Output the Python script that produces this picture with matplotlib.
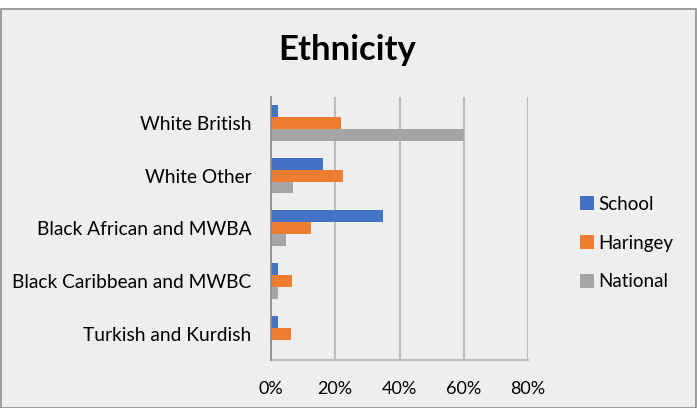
import matplotlib
matplotlib.use("Agg")
import matplotlib.pyplot as plt
import matplotlib.patches as patches
import numpy as np

plt.rcParams['font.family'] = ['Lato', 'DejaVu Sans']

# data (percent)
categories = ['White British', 'White Other', 'Black African and MWBA',
              'Black Caribbean and MWBC', 'Turkish and Kurdish']
series_names = ['School', 'Haringey', 'National']
school = [2.3, 16.3, 34.9, 2.3, 2.3]
haringey = [21.7, 22.4, 12.4, 6.6, 6.2]
national = [60.2, 7.0, 4.7, 2.3, 0.4]
x_ticks = [0, 20, 40, 60, 80]
x_tick_labels = ['0%', '20%', '40%', '60%', '80%']

colors = ['#4472C4', '#ED7D31', '#A5A5A5']
bg = '#EEEEEE'

fig = plt.figure(figsize=(6.97, 4.08), dpi=100, facecolor='white')
# chart area box with grey border
box = patches.Rectangle((0.5 / 697, 0.5 / 408), 695.5 / 697, 399 / 408,
                        transform=fig.transFigure, facecolor=bg,
                        edgecolor='#8C8C8C', linewidth=1.2, zorder=-10)
fig.add_artist(box)

ax = fig.add_axes([271 / 697, 48 / 408, 257 / 697, 263.5 / 408])
ax.patch.set_alpha(0)

y = np.arange(len(categories))
h = 0.227
for k, vals in enumerate([school, haringey, national]):
    ax.barh(y + (k - 1) * h, vals, height=h, color=colors[k],
            label=series_names[k], zorder=3)

ax.set_xlim(0, 80)
ax.set_ylim(len(categories) - 0.5, -0.5)
ax.set_xticks(x_ticks)
ax.set_xticklabels(x_tick_labels)
ax.set_yticks(y)
ax.set_yticklabels(categories)
ax.tick_params(axis='both', length=0, colors='#000000')
ax.tick_params(axis='x', pad=15, labelsize=13)
ax.tick_params(axis='y', pad=14, labelsize=13.8)

ax.grid(axis='x', color='#BDBDBD', linewidth=1.5, zorder=1)
for s in ['top', 'right']:
    ax.spines[s].set_visible(False)
ax.spines['left'].set_color('#8C8C8C')
ax.spines['left'].set_linewidth(1.2)
ax.spines['left'].set_zorder(4)
ax.spines['bottom'].set_color('#BDBDBD')
ax.spines['bottom'].set_linewidth(1.5)

fig.text(347 / 697, 1 - 50 / 408, 'Ethnicity', ha='center', va='center',
         fontsize=25, fontweight='bold')

fig.legend(loc='center left', bbox_to_anchor=(563 / 697, 1 - 243 / 408),
           frameon=False, fontsize=13.5, handlelength=0.75, handleheight=0.75,
           handletextpad=0.25, labelspacing=1.17)

fig.savefig('out.png', dpi=100, facecolor='white')
